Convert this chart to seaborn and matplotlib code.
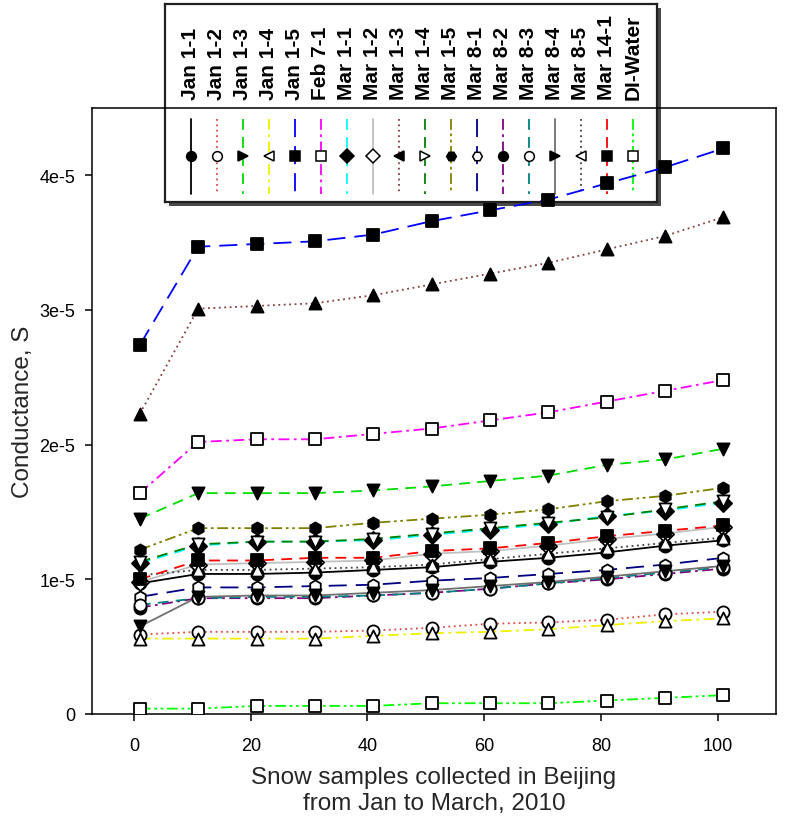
import matplotlib
matplotlib.use("Agg")
import matplotlib.pyplot as plt
from matplotlib.patches import Rectangle
import seaborn as sns
import pandas as pd

# ---------------- data ----------------
sample_x = [1, 11, 21, 31, 41, 51, 61, 71, 81, 91, 101]

series_names = ["Jan 1-1", "Jan 1-2", "Jan 1-3", "Jan 1-4", "Jan 1-5", "Feb 7-1",
                "Mar 1-1", "Mar 1-2", "Mar 1-3", "Mar 1-4", "Mar 1-5", "Mar 8-1",
                "Mar 8-2", "Mar 8-3", "Mar 8-4", "Mar 8-5", "Mar 14-1", "DI-Water"]

jan_1_1 = [0.97e-5, 1.04e-5, 1.04e-5, 1.05e-5, 1.07e-5, 1.09e-5, 1.13e-5, 1.16e-5, 1.20e-5, 1.25e-5, 1.29e-5]
jan_1_2 = [0.59e-5, 0.61e-5, 0.61e-5, 0.61e-5, 0.62e-5, 0.64e-5, 0.67e-5, 0.68e-5, 0.70e-5, 0.74e-5, 0.76e-5]
jan_1_3 = [1.45e-5, 1.64e-5, 1.64e-5, 1.64e-5, 1.66e-5, 1.69e-5, 1.73e-5, 1.77e-5, 1.85e-5, 1.89e-5, 1.97e-5]
jan_1_4 = [0.56e-5, 0.56e-5, 0.56e-5, 0.56e-5, 0.58e-5, 0.60e-5, 0.61e-5, 0.63e-5, 0.66e-5, 0.69e-5, 0.71e-5]
jan_1_5 = [2.74e-5, 3.47e-5, 3.49e-5, 3.51e-5, 3.56e-5, 3.66e-5, 3.74e-5, 3.82e-5, 3.94e-5, 4.06e-5, 4.20e-5]
feb_7_1 = [1.64e-5, 2.02e-5, 2.04e-5, 2.04e-5, 2.08e-5, 2.12e-5, 2.18e-5, 2.24e-5, 2.32e-5, 2.40e-5, 2.48e-5]
mar_1_1 = [1.12e-5, 1.25e-5, 1.28e-5, 1.28e-5, 1.29e-5, 1.33e-5, 1.37e-5, 1.41e-5, 1.47e-5, 1.51e-5, 1.57e-5]
mar_1_2 = [0.98e-5, 1.11e-5, 1.12e-5, 1.13e-5, 1.14e-5, 1.19e-5, 1.21e-5, 1.25e-5, 1.30e-5, 1.34e-5, 1.39e-5]
mar_1_3 = [2.23e-5, 3.01e-5, 3.03e-5, 3.05e-5, 3.11e-5, 3.19e-5, 3.27e-5, 3.35e-5, 3.45e-5, 3.55e-5, 3.69e-5]
mar_1_4 = [1.13e-5, 1.26e-5, 1.28e-5, 1.28e-5, 1.30e-5, 1.34e-5, 1.38e-5, 1.42e-5, 1.46e-5, 1.52e-5, 1.58e-5]
mar_1_5 = [1.22e-5, 1.38e-5, 1.38e-5, 1.38e-5, 1.42e-5, 1.45e-5, 1.48e-5, 1.52e-5, 1.58e-5, 1.62e-5, 1.68e-5]
mar_8_1 = [0.87e-5, 0.94e-5, 0.94e-5, 0.95e-5, 0.96e-5, 0.99e-5, 1.01e-5, 1.04e-5, 1.07e-5, 1.11e-5, 1.16e-5]
mar_8_2 = [0.79e-5, 0.86e-5, 0.86e-5, 0.86e-5, 0.88e-5, 0.90e-5, 0.93e-5, 0.97e-5, 1.00e-5, 1.04e-5, 1.08e-5]
mar_8_3 = [0.81e-5, 0.86e-5, 0.87e-5, 0.87e-5, 0.88e-5, 0.90e-5, 0.93e-5, 0.97e-5, 1.01e-5, 1.05e-5, 1.09e-5]
mar_8_4 = [0.65e-5, 0.87e-5, 0.88e-5, 0.88e-5, 0.90e-5, 0.92e-5, 0.95e-5, 0.98e-5, 1.02e-5, 1.06e-5, 1.10e-5]
mar_8_5 = [1.03e-5, 1.07e-5, 1.07e-5, 1.08e-5, 1.09e-5, 1.11e-5, 1.15e-5, 1.19e-5, 1.23e-5, 1.27e-5, 1.31e-5]
mar_14_1 = [1.00e-5, 1.14e-5, 1.14e-5, 1.16e-5, 1.16e-5, 1.21e-5, 1.23e-5, 1.27e-5, 1.32e-5, 1.36e-5, 1.40e-5]
di_water = [0.04e-5, 0.04e-5, 0.06e-5, 0.06e-5, 0.06e-5, 0.08e-5, 0.08e-5, 0.08e-5, 0.10e-5, 0.12e-5, 0.14e-5]

series_values = [jan_1_1, jan_1_2, jan_1_3, jan_1_4, jan_1_5, feb_7_1,
                 mar_1_1, mar_1_2, mar_1_3, mar_1_4, mar_1_5, mar_8_1,
                 mar_8_2, mar_8_3, mar_8_4, mar_8_5, mar_14_1, di_water]

x_ticks = [0, 20, 40, 60, 80, 100]
y_ticks = [0, 1e-5, 2e-5, 3e-5, 4e-5]
y_tick_labels = ["0", "1e-5", "2e-5", "3e-5", "4e-5"]
x_label = "Snow samples collected in Beijing\nfrom Jan to March, 2010"
y_label = "Conductance, S"

# ---------------- styles ----------------
SOLID = "-"
DOT = (0, (1, 2))
DASH = (0, (6, 4))
LDASH = (0, (10, 5))
DDOT = (0, (6, 2.5, 1.5, 2.5))
DDDOT = (0, (6, 2, 1.5, 2, 1.5, 2))

line_colors = ["#000000", "#e04848", "#00dd00", "#f0f000", "#0000ff", "#ff00ff",
               "#00ffff", "#c0c0c0", "#804040", "#008000", "#808000", "#000080",
               "#800080", "#008080", "#707070", "#404040", "#ff0000", "#00ff00"]
line_styles = [SOLID, DOT, DASH, DDOT, LDASH, DDOT,
               DASH, SOLID, DOT, DASH, DDDOT, LDASH,
               DDOT, DASH, SOLID, DOT, DASH, DDDOT]
plot_markers = ["o", "o", "v", "^", "s", "s", "D", "D", "^", "v", "h", "h",
                "o", "o", "v", "^", "s", "s"]
legend_markers = ["o", "o", ">", "<", "s", "s", "D", "D", "<", ">", "H", "H",
                  "o", "o", ">", "<", "s", "s"]
marker_filled = [True, False, True, False, True, False, True, False, True, False,
                 True, False, True, False, True, False, True, False]

rows = []
for name, vals in zip(series_names, series_values):
    for xv, yv in zip(sample_x, vals):
        rows.append({"series": name, "x": xv, "y": yv})
df = pd.DataFrame(rows)

sns.set_style("ticks")
plt.rcParams["font.family"] = ["Liberation Sans", "DejaVu Sans"]

W, H = 785, 828
fig = plt.figure(figsize=(W / 100, H / 100), dpi=100)
fig.patch.set_facecolor("white")

ax_l, ax_r, ax_t, ax_b = 92, 776, 109, 715
ax = fig.add_axes([ax_l / W, (H - ax_b) / H, (ax_r - ax_l) / W, (ax_b - ax_t) / H], zorder=2)
ax.patch.set_alpha(0)

for i, name in enumerate(series_names):
    sub = df[df["series"] == name]
    sns.lineplot(data=sub, x="x", y="y", ax=ax, color=line_colors[i],
                 linestyle=line_styles[i], linewidth=1.3, sort=False,
                 estimator=None, legend=False, zorder=2)
for i, name in enumerate(series_names):
    sub = df[df["series"] == name]
    sns.scatterplot(data=sub, x="x", y="y", ax=ax, marker=plot_markers[i], s=76,
                    color="black" if marker_filled[i] else "white",
                    edgecolor="black", linewidth=1.3, legend=False, zorder=3)

ax.set_xlim(-7.2, 110)
ax.set_ylim(0, 4.5e-5)
ax.set_xticks(x_ticks)
ax.set_xticklabels([str(t) for t in x_ticks])
ax.set_yticks(y_ticks)
ax.set_yticklabels(y_tick_labels)
ax.tick_params(axis="both", direction="out", length=5, width=1.1, labelsize=13,
               colors="black")
ax.tick_params(axis="x", pad=11.5)
ax.tick_params(axis="y", pad=7)
for sp in ax.spines.values():
    sp.set_visible(True)
    sp.set_linewidth(1.1)
    sp.set_color("black")
ax.set_xlabel(x_label, fontsize=17.5, labelpad=9, linespacing=1.2)
ax.set_ylabel(y_label, fontsize=17.5, labelpad=4)

# ---------------- legend box ----------------
lg_l, lg_r, lg_t, lg_b = 165, 657, 5, 203
shadow = Rectangle(((lg_l + 4) / W, (H - lg_b - 4) / H), (lg_r - lg_l) / W, (lg_b - lg_t) / H,
                   transform=fig.transFigure, facecolor="#4a4a4a", edgecolor="none", zorder=0.5)
fig.add_artist(shadow)
lax = fig.add_axes([lg_l / W, (H - lg_b) / H, (lg_r - lg_l) / W, (lg_b - lg_t) / H], zorder=1)
lax.set_facecolor("white")
lax.set_xlim(0, lg_r - lg_l)
lax.set_ylim(lg_b - lg_t, 0)
lax.set_xticks([])
lax.set_yticks([])
for sp in lax.spines.values():
    sp.set_linewidth(1.6)
    sp.set_color("#202020")

for i, name in enumerate(series_names):
    cx = 26 + 26 * i
    lax.text(cx, 95, name, rotation=90, ha="center", va="bottom", fontsize=15,
             fontweight="bold", color="black")
    lax.plot([cx, cx], [115, 190], color=line_colors[i], linestyle=line_styles[i], lw=1.3)
    lax.plot([cx], [152], marker=legend_markers[i], ms=7,
             mfc="black" if marker_filled[i] else "white", mec="black", mew=1.1)

fig.savefig("out.png", dpi=100, facecolor="white")
